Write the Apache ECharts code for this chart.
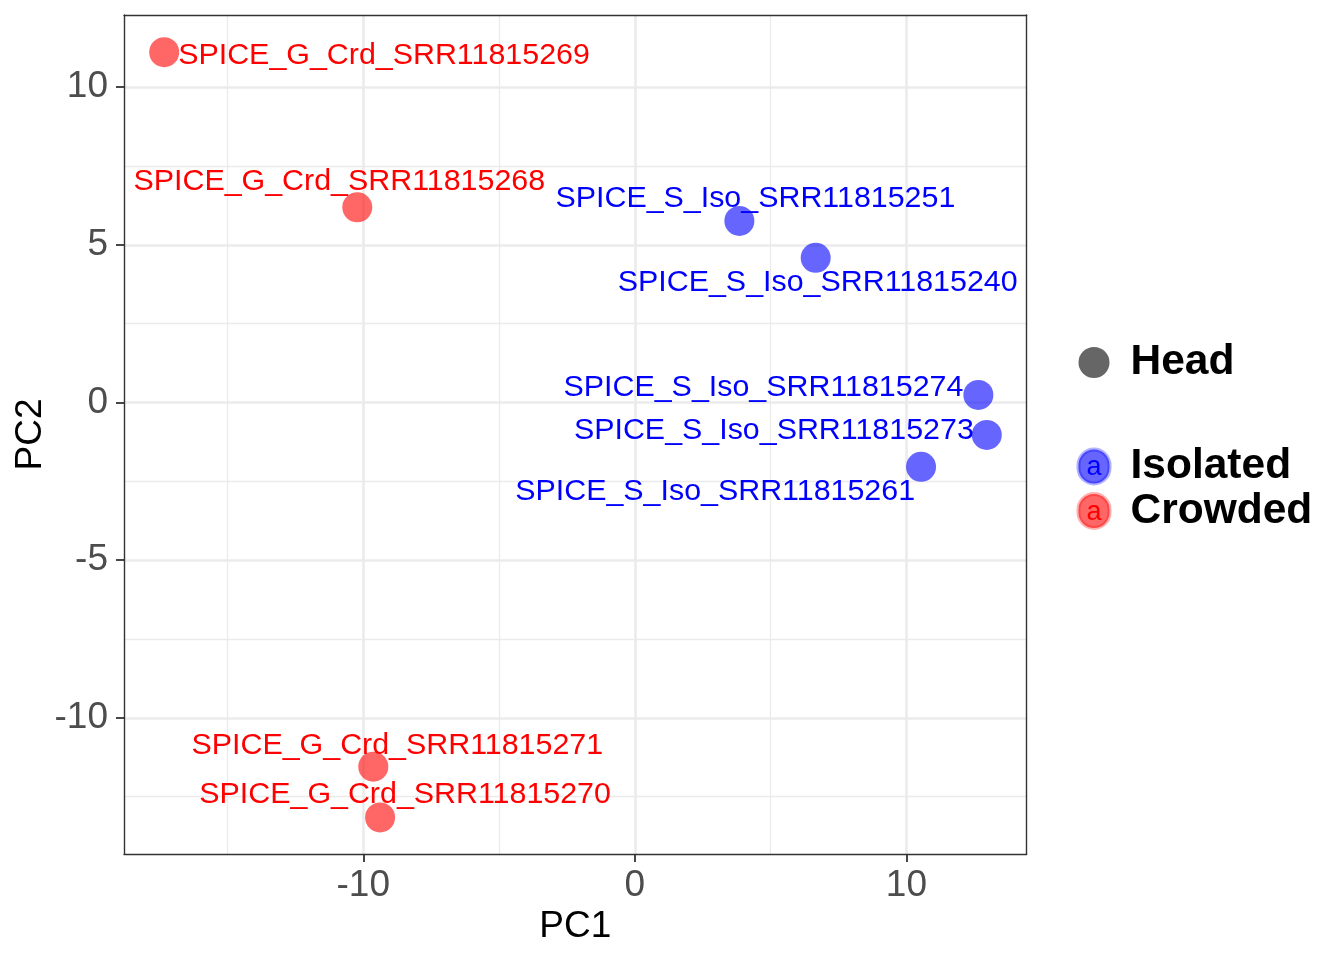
<!DOCTYPE html>
<html>
<head>
<meta charset="utf-8">
<title>PCA</title>
<script src="https://cdn.jsdelivr.net/npm/echarts@6.0.0/dist/echarts.min.js"></script>
<style>
  html, body { margin: 0; padding: 0; background: #fff; }
  #chart-container { width: 1344px; height: 960px; }
</style>
</head>
<body>
<div id="chart-container"></div>
<script>
// samples and their PCA coordinates
const sampleNames = [
    'SPICE_G_Crd_SRR11815269',
    'SPICE_G_Crd_SRR11815268',
    'SPICE_S_Iso_SRR11815251',
    'SPICE_S_Iso_SRR11815240',
    'SPICE_S_Iso_SRR11815274',
    'SPICE_S_Iso_SRR11815273',
    'SPICE_S_Iso_SRR11815261',
    'SPICE_G_Crd_SRR11815271',
    'SPICE_G_Crd_SRR11815270',
];
const sampleGroups = ['Crowded', 'Crowded', 'Isolated', 'Isolated', 'Isolated', 'Isolated', 'Isolated', 'Crowded', 'Crowded'];
const pc1 = [-17.33, -10.22, 3.85, 6.66, 12.65, 12.96, 10.54, -9.63, -9.38];
const pc2 = [11.11, 6.19, 5.76, 4.59, 0.24, -1.03, -2.04, -11.55, -13.16];

// legend entries
const shapeNames = ['Head'];
const groupNames = ['Isolated', 'Crowded'];

// axes
const xRange = [-18.81, 14.43];
const yRange = [-14.32, 12.29];
const xTicks = [-10, 0, 10];
const yTicks = [-10, -5, 0, 5, 10];
const xMinorTicks = [-15, -5, 5];
const yMinorTicks = [-12.5, -7.5, -2.5, 2.5, 7.5];

// where the repelled text sits next to each point (align, pixel offset)
const labelPlacement = [
    ['left', [14, 3]],
    ['center', [-18, -26]],
    ['center', [16, -22]],
    ['center', [2, 25]],
    ['right', [-15, -7]],
    ['right', [-13, -4]],
    ['right', [-6, 25]],
    ['center', [24, -21]],
    ['center', [25, -23]],
];

const FONT = '"Liberation Sans", Arial, Helvetica, sans-serif';
const pointColor = { Isolated: 'rgba(0, 0, 255, 0.6)', Crowded: 'rgba(255, 0, 0, 0.6)' };
const textColor = { Isolated: '#0000FF', Crowded: '#FF0000' };

const myChart = echarts.init(document.getElementById('chart-container'));

function indicesOf(group) {
    return sampleNames.map((_, i) => i).filter(i => sampleGroups[i] === group);
}

const series = [];
// dummy series so the shape legend has an entry
series.push({ name: 'Head', type: 'scatter', data: [] });

groupNames.forEach(group => {
    const idx = indicesOf(group);
    // text layer (under the points)
    series.push({
        name: group + ' label',
        type: 'scatter',
        z: 2,
        silent: true,
        symbolSize: 30,
        itemStyle: { color: 'rgba(0,0,0,0)', opacity: 1 },
        label: {
            show: true,
            position: 'inside',
            fontSize: 30.4,
            fontFamily: FONT,
            color: textColor[group],
            opacity: 1,
            verticalAlign: 'middle',
            formatter: p => sampleNames[p.data.idx],
        },
        emphasis: { disabled: true },
        data: idx.map(i => ({
            value: [pc1[i], pc2[i]],
            idx: i,
            label: { align: labelPlacement[i][0], offset: labelPlacement[i][1] },
        })),
    });
    // the points
    series.push({
        name: group,
        type: 'scatter',
        z: 3,
        silent: true,
        symbolSize: 30,
        itemStyle: { color: pointColor[group], opacity: 1 },
        emphasis: { disabled: true },
        data: idx.map(i => [pc1[i], pc2[i]]),
    });
});

const keyBox = { width: 31, height: 31, borderRadius: 15.5, lineHeight: 31, align: 'center' };
const legendRich = {
    kHead: Object.assign({}, keyBox, { backgroundColor: '#666666' }),
    kIsolated: Object.assign({}, keyBox, {
        backgroundColor: pointColor.Isolated, borderColor: 'rgba(0,0,255,0.3)', borderWidth: 2,
        color: textColor.Isolated, fontSize: 27, fontFamily: FONT, padding: [3, 0, 0, 0],
    }),
    kCrowded: Object.assign({}, keyBox, {
        backgroundColor: pointColor.Crowded, borderColor: 'rgba(255,0,0,0.3)', borderWidth: 2,
        color: textColor.Crowded, fontSize: 27, fontFamily: FONT, padding: [3, 0, 0, 0],
    }),
    t: { fontSize: 42.5, fontWeight: 'bold', fontFamily: FONT, color: '#000', lineHeight: 42, padding: [0, 0, 0, 21] },
};
const legendBase = {
    orient: 'vertical',
    left: 1073.5,
    padding: 0,
    icon: 'none',
    itemWidth: 0,
    itemHeight: 0,
    selectedMode: false,
    textStyle: { rich: legendRich },
};

const option = {
    animation: false,
    backgroundColor: '#fff',
    textStyle: { fontFamily: FONT },
    grid: {
        left: 124,
        top: 15,
        width: 902.7,
        height: 839,
        containLabel: false,
        outerBoundsMode: 'none',
    },
    legend: [
        Object.assign({}, legendBase, {
            top: 341,
            data: shapeNames,
            formatter: name => '{k' + name + '| }{t|' + name + '}',
        }),
        Object.assign({}, legendBase, {
            top: 445,
            itemGap: 1.5,
            data: groupNames,
            formatter: name => '{k' + name + '|a}{t|' + name + '}',
        }),
    ],
    xAxis: [
        {
            type: 'value',
            position: 'bottom',
            min: xRange[0],
            max: xRange[1],
            splitNumber: 3,
            name: 'PC1',
            nameLocation: 'middle',
            nameGap: 54,
            nameMoveOverlap: false,
            nameTextStyle: { fontSize: 37, color: '#000', fontFamily: FONT },
            axisLine: { show: true, onZero: false, lineStyle: { color: '#333333', width: 1.4 } },
            axisTick: { show: true, customValues: xTicks, length: 8, lineStyle: { color: '#333333', width: 1.8 } },
            axisLabel: { customValues: xTicks, margin: 13, fontSize: 37, color: '#4D4D4D', fontFamily: FONT },
            splitLine: { show: true, lineStyle: { color: '#EBEBEB', width: 2.6 } },
        },
        {
            type: 'value',
            position: 'top',
            min: xRange[0],
            max: xRange[1],
            splitNumber: 7,
            axisLine: { show: true, onZero: false, lineStyle: { color: '#333333', width: 1.4 } },
            axisTick: { show: false, customValues: xMinorTicks },
            axisLabel: { show: false },
            splitLine: { show: true, lineStyle: { color: '#EBEBEB', width: 1.3 } },
        },
    ],
    yAxis: [
        {
            type: 'value',
            position: 'left',
            min: yRange[0],
            max: yRange[1],
            splitNumber: 5,
            name: 'PC2',
            nameLocation: 'middle',
            nameRotate: 90,
            nameGap: 75,
            nameMoveOverlap: false,
            nameTextStyle: { fontSize: 37, color: '#000', fontFamily: FONT },
            axisLine: { show: true, onZero: false, lineStyle: { color: '#333333', width: 1.4 } },
            axisTick: { show: true, customValues: yTicks, length: 8, lineStyle: { color: '#333333', width: 1.8 } },
            axisLabel: { customValues: yTicks, margin: 16, fontSize: 37, color: '#4D4D4D', fontFamily: FONT },
            splitLine: { show: true, lineStyle: { color: '#EBEBEB', width: 2.6 } },
        },
        {
            type: 'value',
            position: 'right',
            min: yRange[0],
            max: yRange[1],
            axisLine: { show: true, onZero: false, lineStyle: { color: '#333333', width: 1.4 } },
            axisTick: { show: false, customValues: yMinorTicks },
            axisLabel: { show: false },
            splitLine: { show: true, lineStyle: { color: '#EBEBEB', width: 1.3 } },
        },
    ],
    series: series,
};

myChart.setOption(option);
</script>
</body>
</html>
